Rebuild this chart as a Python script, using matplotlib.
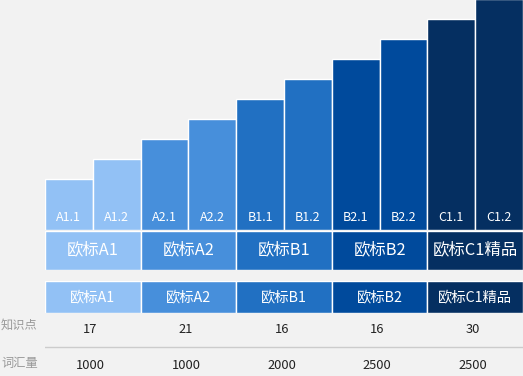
import matplotlib
matplotlib.use("Agg")
import matplotlib.pyplot as plt

plt.rcParams['font.family'] = ['Noto Sans CJK SC', 'DejaVu Sans']

# ---- data ----
levels = ["A1.1", "A1.2", "A2.1", "A2.2", "B1.1", "B1.2", "B2.1", "B2.2", "C1.1", "C1.2"]
level_values = [5, 7, 9, 11, 13, 15, 17, 19, 21, 23]
groups = ["欧标A1", "欧标A2", "欧标B1", "欧标B2", "欧标C1精品"]
group_colors = ["#92C1F5", "#478FDB", "#2170C2", "#004A9C", "#052F61"]
row_labels = ["知识点", "词汇量"]
knowledge_points = [17, 21, 16, 16, 30]
vocabulary = [1000, 1000, 2000, 2500, 2500]

W, H = 523, 376
BG = "#F2F2F2"
fig = plt.figure(figsize=(W / 100, H / 100), dpi=100, facecolor=BG)


def add_ax(x0, y0, x1, y1):
    ax = fig.add_axes([x0 / W, 1 - y1 / H, (x1 - x0) / W, (y1 - y0) / H])
    ax.set_facecolor("none")
    ax.axis("off")
    ax.set_xlim(-0.5, len(levels) - 0.5)
    return ax

bar_colors = [group_colors[i // 2] for i in range(len(levels))]
edge_lw = 1.0

# main bars
ax = add_ax(45, 0, 523, 229.5)
ax.set_ylim(0, 22.9)
xs = list(range(len(levels)))
ax.bar(xs, level_values, width=1.0, color=bar_colors, edgecolor="white", linewidth=edge_lw, clip_on=True)
for x, lab in zip(xs, levels):
    ax.text(x, 1.2, lab, ha="center", va="center", color="white", fontsize=9)

# group row 1
gx = [2 * i + 0.5 for i in range(len(groups))]
ax1 = add_ax(45, 230.5, 523, 270)
ax1.set_ylim(0, 1)
ax1.bar(gx, [1] * len(groups), width=2.0, color=group_colors, edgecolor="white", linewidth=edge_lw)
for x, g in zip(gx, groups):
    ax1.text(x, 0.5, g, ha="center", va="center", color="white", fontsize=11.8)

# group row 2
ax2 = add_ax(45, 281, 523, 313)
ax2.set_ylim(0, 1)
ax2.bar(gx, [1] * len(groups), width=2.0, color=group_colors, edgecolor="white", linewidth=edge_lw)
for x, g in zip(gx, groups):
    ax2.text(x, 0.5, g, ha="center", va="center", color="white", fontsize=10.3)

# table rows
ax3 = add_ax(45, 313, 523, 376)
ax3.set_ylim(376, 313)
for x, v in zip(gx, knowledge_points):
    ax3.text(x - 0.05, 329.5, str(v), ha="center", va="center", color="#222222", fontsize=9.3)
for x, v in zip(gx, vocabulary):
    ax3.text(x - 0.05, 365.5, str(v), ha="center", va="center", color="#222222", fontsize=9.3)
ax3.axhline(347, color="#CCCCCC", linewidth=1.0)

fig.text(1 / W, 1 - 325 / H, row_labels[0], ha="left", va="center", color="#999999", fontsize=8.8)
fig.text(1 / W, 1 - 363 / H, row_labels[1], ha="left", va="center", color="#999999", fontsize=8.8)

fig.savefig("out.png", dpi=100, facecolor=BG)
